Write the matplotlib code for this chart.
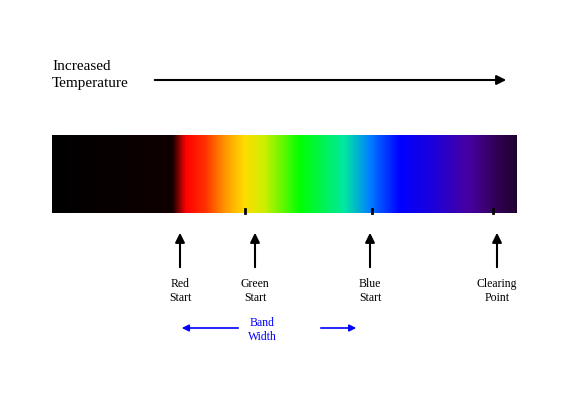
import matplotlib
matplotlib.use("Agg")
import matplotlib.pyplot as plt
import numpy as np
from matplotlib.colors import LinearSegmentedColormap

stop_pos = [52, 172, 185, 205, 225, 245, 265, 300, 345, 370, 400, 430, 470, 500, 517]
stop_cols = ["#000000", "#100000", "#ff0000", "#ff3000", "#ff9900", "#ffdd00", "#c8f000", "#00ff00", "#00e8a0", "#0080ff", "#0000ff", "#1800e0", "#4800a0", "#300050", "#200030"]
labels = ["Red\nStart", "Green\nStart", "Blue\nStart", "Clearing\nPoint"]
label_x = [180, 255, 370, 497]
tick_x = [245, 372, 493]

W, H = 580, 400
fig = plt.figure(figsize=(W/100, H/100), dpi=100)
ax = fig.add_axes([0, 0, 1, 1])
ax.set_xlim(0, W); ax.set_ylim(H, 0); ax.axis("off")
serif = "Liberation Serif"

frac = [(p - stop_pos[0]) / (stop_pos[-1] - stop_pos[0]) for p in stop_pos]
cmap = LinearSegmentedColormap.from_list("spec", list(zip(frac, stop_cols)))
ax.imshow(np.linspace(0, 1, 500)[None, :], cmap=cmap, aspect="auto",
          extent=[stop_pos[0], stop_pos[-1], 213, 135])
for t in tick_x:
    ax.plot([t, t], [209, 213], color="black", lw=2)

ax.text(52, 75, "Increased\nTemperature", fontsize=11, family=serif, va="center", linespacing=1.3)
ax.annotate("", xy=(509, 80), xytext=(152, 80),
            arrowprops=dict(arrowstyle="-|>", color="black", lw=1.5, mutation_scale=14))

for lab, x in zip(labels, label_x):
    ax.annotate("", xy=(x, 230), xytext=(x, 270),
                arrowprops=dict(arrowstyle="-|>", color="black", lw=1.5, mutation_scale=14))
    ax.text(x, 278, lab, fontsize=8.5, family=serif, ha="center", va="top", linespacing=1.2)

ax.text(262, 330, "Band\nWidth", fontsize=8.5, family=serif, ha="center", va="center",
        color="#0000ff", linespacing=1.3)
ax.annotate("", xy=(179, 328), xytext=(241, 328),
            arrowprops=dict(arrowstyle="-|>", color="#0000ff", lw=1.2, mutation_scale=10))
ax.annotate("", xy=(359, 328), xytext=(318, 328),
            arrowprops=dict(arrowstyle="-|>", color="#0000ff", lw=1.2, mutation_scale=10))

fig.savefig("out.png", dpi=100)
